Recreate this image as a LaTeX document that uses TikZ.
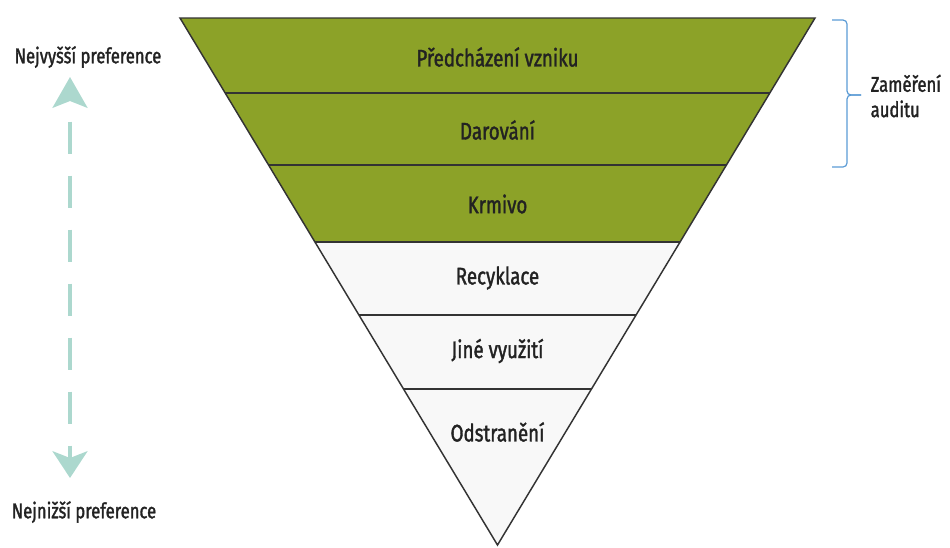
\documentclass[tikz,border=0pt]{standalone}
\usepackage{fontspec}
\setmainfont{Fira Sans}[FakeStretch=0.78, FakeBold=1.5]
\usetikzlibrary{calc, positioning, arrows.meta}
\definecolor{wastegreen}{RGB}{140,162,40}
\definecolor{bandwhite}{RGB}{248,248,248}
\definecolor{prefteal}{RGB}{172,216,206}
\definecolor{bracketblue}{RGB}{91,155,213}
\definecolor{labeltext}{RGB}{34,34,34}
\newcommand*{\lblfont}{\fontsize{18}{21}\selectfont}

\begin{document}
\begin{tikzpicture}[x=0.75pt, y=-0.75pt,
  every node/.style={text=labeltext, font=\lblfont},
  edge/.style={draw=black!80, line width=1.1pt},
  pref/.style={prefteal, line width=3.5pt, dash pattern=on 24pt off 16.5pt, dash phase=24pt}]
 \useasboundingbox (0,0) rectangle (950,547);
 \coordinate (tl) at (180,18);
 \coordinate (tr) at (815,18);
 \coordinate (apex) at (497.5,545);
 \fill[wastegreen] (tl) -- (tr) -- ($(tr)!0.425!(apex)$) -- ($(tl)!0.425!(apex)$) -- cycle;
 \fill[bandwhite] ($(tl)!0.425!(apex)$) -- ($(tr)!0.425!(apex)$) -- (apex) -- cycle;
 \foreach \t in {0.1423, 0.279, 0.425, 0.5636, 0.704}
  \draw[edge] ($(tl)!\t!(apex)$) -- ($(tr)!\t!(apex)$);
 \draw[edge, line join=miter] (tl) -- (tr) -- (apex) -- cycle;

 \node (prevence) at (497.5,57) {Předcházení vzniku};
 \node (darovani) at (497.5,130) {Darování};
 \node (krmivo) at (497.5,204) {Krmivo};
 \node (recyklace) at (497.5,278) {Recyklace};
 \node (vyuziti) at (497.5,351) {Jiné využití};
 \node (odstraneni) at (497.5,432) {Odstranění};

 \node[font=\fontsize{16}{19}\selectfont] (hi) at (88,57) {Nejvyšší preference};
 \node[font=\fontsize{16}{19}\selectfont] (lo) at (84,512) {Nejnižší preference};
 \coordinate (up) at (70,77);
 \coordinate (down) at (70,478);
 \draw[pref, {Stealth[length=23pt, width=26pt, inset=5pt]}-{Stealth[length=20pt, width=26pt, inset=5pt]}] (up) -- (down);

 %bracket for the audit
 \draw[bracketblue, line width=0.9pt, rounded corners=3pt] (832,20) -| (847,95) -- (861,95);
 \draw[bracketblue, line width=0.9pt, rounded corners=3pt] (832,167) -| (847,95) -- (861,95);
 \node[anchor=west, align=left, font=\fontsize{16}{19}\selectfont] (fokus) at (866,96) {Zaměření\\auditu};
\end{tikzpicture}
\end{document}
